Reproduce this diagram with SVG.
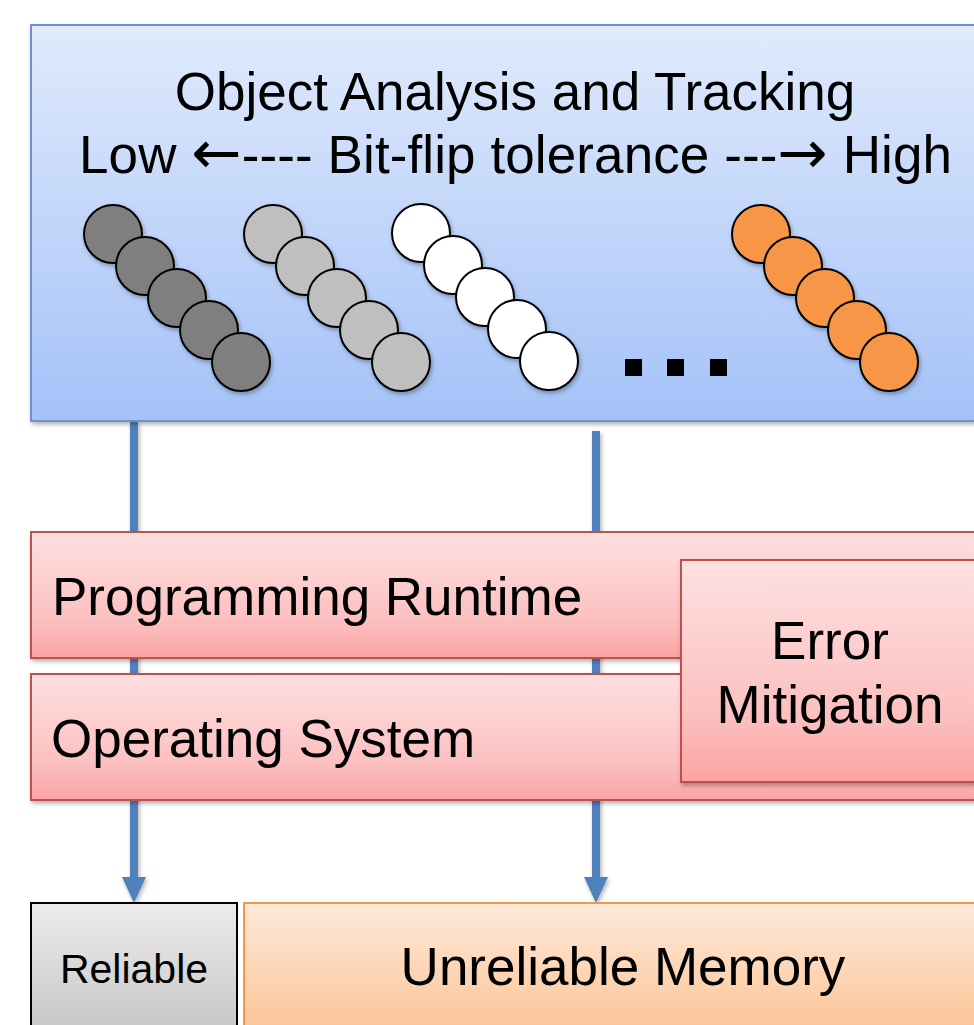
<svg xmlns="http://www.w3.org/2000/svg" width="974" height="1025" viewBox="0 0 974 1025">
  <defs>
    <linearGradient id="gBlue" x1="0" y1="0" x2="0" y2="1">
      <stop offset="0" stop-color="#e0eafc"/>
      <stop offset="1" stop-color="#a4c2f8"/>
    </linearGradient>
    <linearGradient id="gPink" x1="0" y1="0" x2="0" y2="1">
      <stop offset="0" stop-color="#fee0e0"/>
      <stop offset="0.7" stop-color="#fcc0c0"/>
      <stop offset="1" stop-color="#fba3a3"/>
    </linearGradient>
    <linearGradient id="gGray" x1="0" y1="0" x2="0" y2="1">
      <stop offset="0" stop-color="#ececec"/>
      <stop offset="1" stop-color="#c4c4c4"/>
    </linearGradient>
    <linearGradient id="gOrange" x1="0" y1="0" x2="0" y2="1">
      <stop offset="0" stop-color="#fee9da"/>
      <stop offset="1" stop-color="#fcc18f"/>
    </linearGradient>
    <filter id="shadow" x="-10%" y="-10%" width="130%" height="140%">
      <feDropShadow dx="1.5" dy="2.5" stdDeviation="2" flood-color="#000" flood-opacity="0.3"/>
    </filter>
    <!-- triangular head pointing along the line direction -->
    <marker id="arrowHead" viewBox="0 0 26 24" markerWidth="26" markerHeight="24" refX="2" refY="12" orient="auto" markerUnits="userSpaceOnUse">
      <path d="M0 0 L26 12 L0 24 Z" fill="#4f81bd"/>
    </marker>
  </defs>
  <style>
    text { font-family: "Liberation Sans", Arial, sans-serif; fill: #000; }
    .big { font-size: 53px; }
    .small { font-size: 41px; }
    .arr { font-family: "DejaVu Sans", sans-serif; font-size: 60px; }
    .ball { stroke: #000; stroke-width: 2; }
    .dark { fill: #7f7f7f; }
    .light { fill: #bfbfbf; }
    .white { fill: #ffffff; }
    .orange { fill: #f79646; }
    .conn { stroke: #4f81bd; stroke-width: 8; fill: none; }
  </style>

  <!-- connectors drawn first so layer boxes sit on top -->
  <g id="connectors" filter="url(#shadow)">
    <line class="conn" x1="134" y1="421" x2="134" y2="879" marker-end="url(#arrowHead)"/>
    <line class="conn" x1="596" y1="431" x2="596" y2="879" marker-end="url(#arrowHead)"/>
  </g>

  <!-- application layer with object groups -->
  <g id="object-analysis">
    <rect x="31" y="25" width="980" height="396" fill="url(#gBlue)" stroke="#6b93d0" stroke-width="2" filter="url(#shadow)"/>
    <text class="big" x="515" y="110" text-anchor="middle">Object Analysis and Tracking</text>
    <text class="big" x="79" y="173" textLength="873" lengthAdjust="spacing">Low <tspan class="arr">←</tspan>---- Bit-flip tolerance ---<tspan class="arr">→</tspan> High</text>
    <g filter="url(#shadow)">
      <g class="dark">
        <circle class="ball" cx="113" cy="234" r="29"/>
        <circle class="ball" cx="145" cy="266" r="29"/>
        <circle class="ball" cx="177" cy="298" r="29"/>
        <circle class="ball" cx="209" cy="330" r="29"/>
        <circle class="ball" cx="241" cy="362" r="29"/>
      </g>
      <g class="light">
        <circle class="ball" cx="273" cy="234" r="29"/>
        <circle class="ball" cx="305" cy="266" r="29"/>
        <circle class="ball" cx="337" cy="298" r="29"/>
        <circle class="ball" cx="369" cy="330" r="29"/>
        <circle class="ball" cx="401" cy="362" r="29"/>
      </g>
      <g class="white">
        <circle class="ball" cx="421" cy="233" r="29"/>
        <circle class="ball" cx="453" cy="265" r="29"/>
        <circle class="ball" cx="485" cy="297" r="29"/>
        <circle class="ball" cx="517" cy="329" r="29"/>
        <circle class="ball" cx="549" cy="361" r="29"/>
      </g>
      <g class="orange">
        <circle class="ball" cx="761" cy="234" r="29"/>
        <circle class="ball" cx="793" cy="266" r="29"/>
        <circle class="ball" cx="825" cy="298" r="29"/>
        <circle class="ball" cx="857" cy="330" r="29"/>
        <circle class="ball" cx="889" cy="362" r="29"/>
      </g>
    </g>
    <g fill="#000">
      <rect x="625" y="359" width="17" height="17"/>
      <rect x="667" y="359" width="17" height="17"/>
      <rect x="710" y="359" width="17" height="17"/>
    </g>
  </g>

  <g id="programming-runtime">
    <rect x="31" y="532" width="980" height="126" fill="url(#gPink)" stroke="#c0504d" stroke-width="2" filter="url(#shadow)"/>
    <text class="big" x="52" y="615">Programming Runtime</text>
  </g>

  <g id="operating-system">
    <rect x="31" y="674" width="980" height="126" fill="url(#gPink)" stroke="#c0504d" stroke-width="2" filter="url(#shadow)"/>
    <text class="big" x="51" y="757">Operating System</text>
  </g>

  <g id="error-mitigation">
    <rect x="681" y="560" width="330" height="222" fill="url(#gPink)" stroke="#c0504d" stroke-width="2" filter="url(#shadow)"/>
    <text class="big" x="830" y="659" text-anchor="middle">Error</text>
    <text class="big" x="830" y="723" text-anchor="middle">Mitigation</text>
  </g>

  <g id="reliable-memory">
    <rect x="31" y="903" width="206" height="140" fill="url(#gGray)" stroke="#000" stroke-width="2"/>
    <text class="small" x="134" y="983" text-anchor="middle">Reliable</text>
  </g>

  <g id="unreliable-memory">
    <rect x="244" y="903" width="767" height="140" fill="url(#gOrange)" stroke="#f79646" stroke-width="2"/>
    <text class="big" x="623" y="985" text-anchor="middle">Unreliable Memory</text>
  </g>
</svg>
